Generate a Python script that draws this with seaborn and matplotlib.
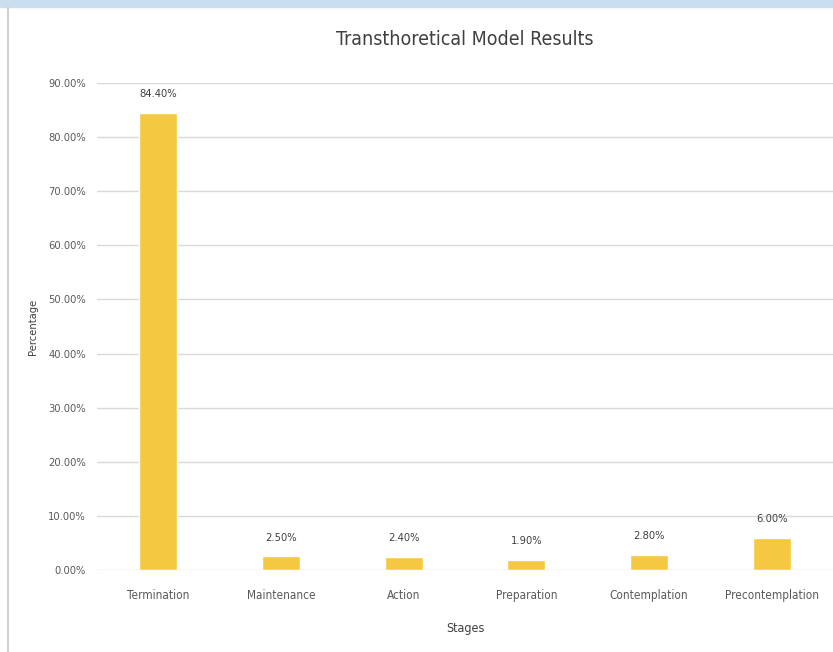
import pandas as pd
import matplotlib.pyplot as plt
import seaborn as sns
from matplotlib.ticker import FuncFormatter, MultipleLocator
from matplotlib.patches import Rectangle
from matplotlib.lines import Line2D

stages = ["Termination", "Maintenance", "Action", "Preparation",
          "Contemplation", "Precontemplation"]
percent = [84.40, 2.50, 2.40, 1.90, 2.80, 6.00]

df = pd.DataFrame({"stage": stages, "percent": percent})

sns.set_theme(style="white")
plt.rcParams["font.family"] = ["DejaVu Sans"]
plt.rcParams["font.stretch"] = "condensed"

fig = plt.figure(figsize=(8.33, 6.52), dpi=100)
ax = fig.add_axes([0.1164, 0.1258, 0.8836, 0.7469])

sns.barplot(data=df, x="stage", y="percent", color="#F5C842",
            saturation=1, width=0.31, ax=ax)

ax.set_ylim(0, 90)
ax.set_xlim(-0.5, 5.5)
ax.yaxis.set_major_locator(MultipleLocator(10))
ax.yaxis.set_major_formatter(FuncFormatter(lambda v, p: f"{v:.2f}%"))
ax.grid(axis="y", color="#d9d9d9", linewidth=1)
ax.set_axisbelow(True)
for s in ax.spines.values():
    s.set_visible(False)
ax.tick_params(axis="x", length=0, labelsize=8.5, colors="#595959", pad=14)
ax.tick_params(axis="y", length=0, labelsize=8, colors="#595959", pad=8)

for i, v in enumerate(percent):
    ax.annotate(f"{v:.2f}%", (i, v), xytext=(0, 10), textcoords="offset points",
                ha="center", va="bottom", fontsize=8, color="#404040")

ax.set_title("Transthoretical Model Results", fontsize=14, color="#404040", pad=27)
ax.set_xlabel("Stages", fontsize=9, color="#404040", labelpad=14)
ax.set_ylabel("Percentage", fontsize=8, color="#404040", labelpad=7)

# frame bits of the screenshot
fig.add_artist(Rectangle((0, 1 - 7 / 652), 1, 7 / 652, transform=fig.transFigure,
                         color="#c9dff0", zorder=0))
fig.add_artist(Line2D([8 / 833, 8 / 833], [0, 1 - 7 / 652], transform=fig.transFigure,
                      color="#d0d0d0", linewidth=1.5))

fig.savefig("out.png", dpi=100)
